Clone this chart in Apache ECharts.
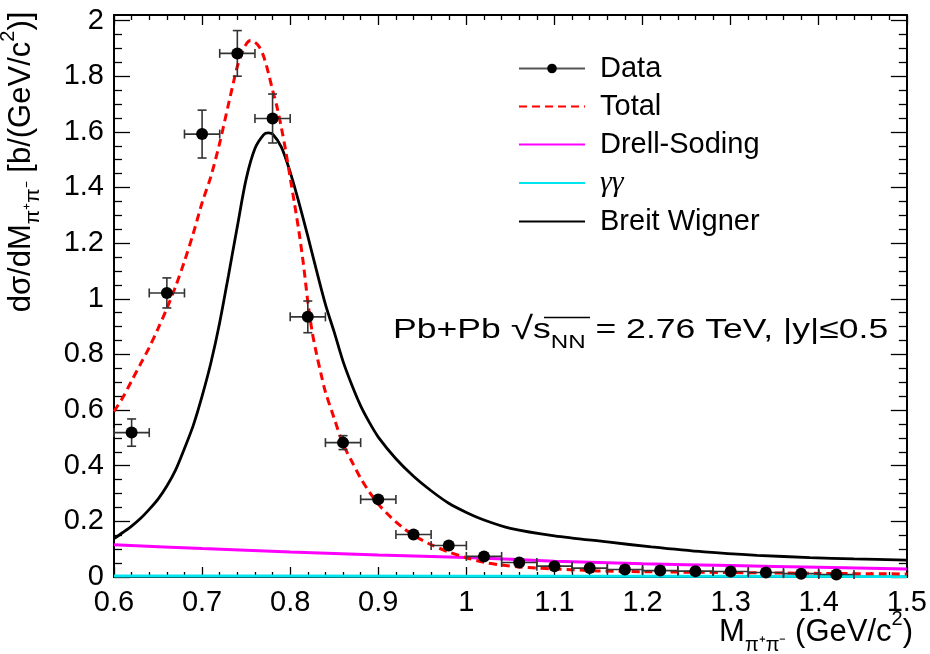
<!DOCTYPE html>
<html><head><meta charset="utf-8">
<script src="https://cdn.jsdelivr.net/npm/echarts@6/dist/echarts.min.js"></script>
<style>html,body{margin:0;padding:0;background:#fff}#c{width:930px;height:654px}</style>
</head><body><div id="c"></div>
<script>
// ---- data ----
const dataX    = [0.62,0.66,0.70,0.74,0.78,0.82,0.86,0.90,0.94,0.98,1.02,1.06,1.10,1.14,1.18,1.22,1.26,1.30,1.34,1.38,1.42];
const dataY    = [0.519,1.021,1.592,1.882,1.648,0.935,0.483,0.279,0.153,0.113,0.074,0.052,0.039,0.032,0.027,0.023,0.021,0.020,0.016,0.012,0.009];
const dataYErr = [0.049,0.054,0.086,0.082,0.088,0.057,0.025,0.010,0.006,0.006,0.005,0.004,0.004,0.003,0.003,0.003,0.003,0.003,0.002,0.002,0.002];
const dataXErr = [0.02,0.02,0.02,0.02,0.02,0.02,0.02,0.02,0.02,0.02,0.02,0.02,0.02,0.02,0.02,0.02,0.02,0.02,0.02,0.02,0.02];

const totalX = [0.600,0.610,0.620,0.630,0.640,0.650,0.660,0.670,0.680,0.690,0.700,0.710,0.720,0.730,0.740,0.745,0.750,0.755,0.760,0.765,0.770,0.775,0.780,0.785,0.790,0.795,0.800,0.805,0.810,0.815,0.820,0.825,0.830,0.835,0.840,0.850,0.860,0.870,0.880,0.890,0.900,0.910,0.920,0.930,0.940,0.960,0.980,1.000,1.020,1.040,1.060,1.080,1.100,1.150,1.200,1.300,1.400,1.500];
const totalY = [0.595,0.645,0.705,0.765,0.825,0.893,0.965,1.045,1.135,1.235,1.345,1.440,1.560,1.700,1.835,1.880,1.915,1.928,1.922,1.905,1.870,1.815,1.750,1.690,1.615,1.530,1.435,1.340,1.240,1.125,0.990,0.880,0.800,0.730,0.665,0.570,0.478,0.415,0.355,0.305,0.262,0.228,0.198,0.172,0.150,0.116,0.090,0.069,0.053,0.043,0.036,0.032,0.029,0.022,0.019,0.016,0.013,0.011];

const bwX = [0.600,0.610,0.620,0.630,0.640,0.650,0.660,0.670,0.680,0.690,0.700,0.710,0.720,0.730,0.740,0.750,0.760,0.770,0.775,0.780,0.790,0.800,0.810,0.820,0.830,0.840,0.850,0.860,0.870,0.880,0.890,0.900,0.920,0.940,0.960,0.980,1.000,1.020,1.050,1.100,1.160,1.210,1.270,1.330,1.390,1.440,1.500];
const bwY = [0.138,0.160,0.183,0.210,0.243,0.280,0.327,0.385,0.462,0.545,0.650,0.770,0.915,1.085,1.260,1.430,1.540,1.590,1.596,1.592,1.545,1.455,1.345,1.225,1.100,0.980,0.880,0.775,0.690,0.615,0.555,0.503,0.425,0.362,0.310,0.265,0.232,0.205,0.175,0.148,0.126,0.108,0.090,0.078,0.070,0.065,0.061];

const dsX = [0.6,0.7,0.8,0.9,1.0,1.1,1.2,1.3,1.4,1.5];
const dsY = [0.116,0.102,0.090,0.079,0.070,0.057,0.048,0.041,0.035,0.029];

const ggX = [0.6,0.8,1.0,1.2,1.5];
const ggY = [0.004,0.0035,0.003,0.0025,0.002];

const yMajorTicks = [0,0.2,0.4,0.6,0.8,1,1.2,1.4,1.6,1.8,2];
const yMinorTicks = [0.05,0.1,0.15,0.25,0.3,0.35,0.45,0.5,0.55,0.65,0.7,0.75,0.85,0.9,0.95,1.05,1.1,1.15,1.25,1.3,1.35,1.45,1.5,1.55,1.65,1.7,1.75,1.85,1.9,1.95];

// ---- chart ----
const FONT = "'Liberation Sans', Arial, Helvetica, sans-serif";
const SERIF = "'Liberation Serif', 'Times New Roman', serif";
const GG = '\u03B3\u03B3';
const zip = (a,b) => a.map((v,i)=>[v,b[i]]);
const chart = echarts.init(document.getElementById('c'), null, {renderer:'canvas'});

function yAxisDef(pos, ticks, len, labels){
  return {
    type:'value', position:pos, min:0, max:2.02, gridIndex:0,
    axisLine:{show:true, onZero:false, lineStyle:{color:'#000', width:2}},
    axisTick:{show:true, inside:true, length:len, customValues:ticks, lineStyle:{color:'#000', width:1.3}},
    axisLabel: labels ? {show:true, customValues:ticks, fontSize:29, fontFamily:FONT, color:'#000', margin:10} : {show:false},
    splitLine:{show:false}
  };
}
function xAxisDef(pos, labels){
  return {
    type:'value', position:pos, min:0.6, max:1.5, interval:0.1, gridIndex:0,
    axisLine:{show:true, onZero:false, lineStyle:{color:'#000', width:2}},
    axisTick:{show:true, inside:true, length:10, lineStyle:{color:'#000', width:1.3}},
    minorTick:{show:true, splitNumber:5, length:5, lineStyle:{color:'#000', width:1.3}},
    axisLabel: labels ? {show:true, fontSize:29, fontFamily:FONT, color:'#000', margin:11} : {show:false},
    splitLine:{show:false}, minorSplitLine:{show:false}
  };
}

const errData = dataX.map((x,i)=>[x, dataY[i], dataXErr[i], dataYErr[i]]);
const noDot = {opacity:0};

const option = {
  backgroundColor:'#fff',
  animation:false,
  grid:{left:114, right:17, top:15, bottom:77, containLabel:false},
  xAxis:[xAxisDef('bottom', true), xAxisDef('top', false)],
  yAxis:[
    yAxisDef('left', yMajorTicks, 16, true),
    yAxisDef('left', yMinorTicks, 8, false),
    yAxisDef('right', yMajorTicks, 16, false),
    yAxisDef('right', yMinorTicks, 8, false)
  ],
  legend:{
    orient:'vertical', left:518, top:54, padding:0,
    itemWidth:66, itemHeight:12, itemGap:9,
    formatter:function(n){ return n===GG ? '{g|'+n+'}' : n; },
    textStyle:{fontSize:29, fontFamily:FONT, color:'#000', padding:[0,0,0,10],
      rich:{g:{fontSize:30, fontFamily:SERIF, fontStyle:'italic', color:'#000'}}},
    data:[
      {name:'Data', lineStyle:{width:2, color:'#555', opacity:1}},
      {name:'Total', itemStyle:noDot},
      {name:'Drell-Soding', itemStyle:noDot},
      {name:GG, itemStyle:noDot},
      {name:'Breit Wigner', itemStyle:noDot}
    ],
    selectedMode:false
  },
  series:[
    {name:GG, type:'line', data:zip(ggX,ggY), symbol:'none', smooth:false,
     lineStyle:{color:'#00e5ee', width:3}, itemStyle:{color:'#00e5ee'}, z:2},
    {name:'Drell-Soding', type:'line', data:zip(dsX,dsY), symbol:'none', smooth:0.3,
     lineStyle:{color:'#ff00ff', width:3}, itemStyle:{color:'#ff00ff'}, z:3},
    {name:'Breit Wigner', type:'line', data:zip(bwX,bwY), symbol:'none', smooth:0.3,
     lineStyle:{color:'#000', width:2.8}, itemStyle:{color:'#000'}, z:4},
    {name:'Total', type:'line', data:zip(totalX,totalY), symbol:'none', smooth:0.3,
     lineStyle:{color:'#ff0000', width:3, type:[8,5]}, itemStyle:{color:'#ff0000'}, z:5},
    {name:'errors', type:'custom', data:errData, encode:{x:0, y:1}, z:6, silent:true,
     renderItem:function(params, api){
       const x=api.value(0), y=api.value(1), xe=api.value(2), ye=api.value(3);
       const pL=api.coord([x-xe,y]), pR=api.coord([x+xe,y]);
       const pT=api.coord([x,y+ye]), pB=api.coord([x,y-ye]);
       const st={stroke:'#333', lineWidth:1.6, fill:null};
       const cap=4.5;
       const ch=[
         {type:'line', shape:{x1:pL[0],y1:pL[1],x2:pR[0],y2:pR[1]}, style:st},
         {type:'line', shape:{x1:pL[0],y1:pL[1]-cap,x2:pL[0],y2:pL[1]+cap}, style:st},
         {type:'line', shape:{x1:pR[0],y1:pR[1]-cap,x2:pR[0],y2:pR[1]+cap}, style:st}
       ];
       if (Math.abs(pB[1]-pT[1]) > 8){
         ch.push({type:'line', shape:{x1:pT[0],y1:pT[1],x2:pB[0],y2:pB[1]}, style:st});
         ch.push({type:'line', shape:{x1:pT[0]-cap,y1:pT[1],x2:pT[0]+cap,y2:pT[1]}, style:st});
         ch.push({type:'line', shape:{x1:pB[0]-cap,y1:pB[1],x2:pB[0]+cap,y2:pB[1]}, style:st});
       }
       return {type:'group', children:ch};
     }},
    {name:'Data', type:'line', data:zip(dataX,dataY), symbol:'circle', symbolSize:12, showSymbol:true,
     lineStyle:{width:0, opacity:0}, itemStyle:{color:'#000'}, z:7}
  ],
  graphic:[
    {type:'text', x:21, y:162, rotation:Math.PI/2, silent:true,
     style:{align:'center', verticalAlign:'middle', fill:'#000', font:'31px '+FONT,
       text:'{a|d\u03C3/dM}{s|\u03C0\u207A\u03C0\u207B}{a| [b/(GeV/c}{u|2}{a|)]}',
       rich:{
         a:{fontSize:31, fontFamily:FONT, lineHeight:46, fill:'#000'},
         s:{fontSize:21, fontFamily:FONT, lineHeight:22, verticalAlign:'bottom', fill:'#000'},
         u:{fontSize:20, fontFamily:FONT, lineHeight:22, verticalAlign:'top', fill:'#000'}
       }}},
    {type:'text', x:913, y:632, silent:true,
     style:{align:'right', verticalAlign:'middle', fill:'#000', font:'31px '+FONT,
       text:'{a|M}{s|\u03C0\u207A\u03C0\u207B}{a| (GeV/c}{u|2}{a|)}',
       rich:{
         a:{fontSize:31, fontFamily:FONT, lineHeight:46, fill:'#000'},
         s:{fontSize:20, fontFamily:FONT, lineHeight:22, verticalAlign:'bottom', fill:'#000'},
         u:{fontSize:20, fontFamily:FONT, lineHeight:22, verticalAlign:'top', fill:'#000'}
       }}},
    {type:'text', x:393, y:330, scaleX:1.27, silent:true,
     style:{align:'left', verticalAlign:'middle', fill:'#000', font:'28px '+FONT,
       text:'{a|Pb+Pb }{r|\u221A}{a|s}{s|NN}{a| = 2.76 TeV, |y|\u22640.5}',
       rich:{
         a:{fontSize:28, fontFamily:FONT, lineHeight:44, fill:'#000'},
         r:{fontSize:32, fontFamily:FONT, lineHeight:44, fill:'#000'},
         s:{fontSize:19, fontFamily:FONT, lineHeight:22, verticalAlign:'bottom', fill:'#000'}
       }}},
    {type:'line', silent:true, shape:{x1:544, y1:317.5, x2:590, y2:317.5},
     style:{stroke:'#000', lineWidth:1.6}}
  ]
};
chart.setOption(option);
</script>
</body></html>
